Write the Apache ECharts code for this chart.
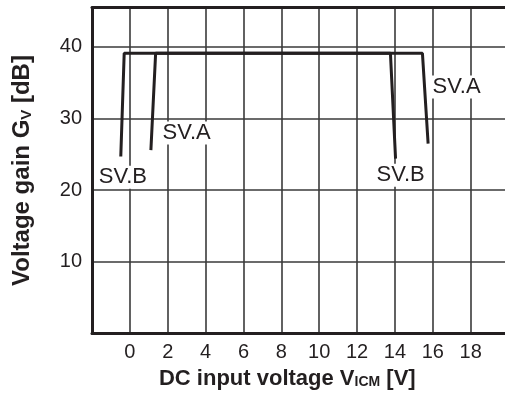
<!DOCTYPE html>
<html>
<head>
<meta charset="utf-8">
<script src="https://cdn.jsdelivr.net/npm/echarts@6/dist/echarts.min.js"></script>
<style>html,body{margin:0;padding:0;background:#fff}#c{width:505px;height:400px}</style>
</head>
<body>
<div id="c"></div>
<script>
var xTicks = [0, 2, 4, 6, 8, 10, 12, 14, 16, 18];
var yTicks = [10, 20, 30, 40];
var svA = [[1.11, 25.6], [1.36, 39.1], [15.45, 39.1], [15.75, 26.5]];
var svB = [[-0.48, 24.7], [-0.3, 39.1], [13.76, 39.1], [14.03, 24.4]];
var labelNames = ['SV.B', 'SV.A', 'SV.A', 'SV.B'];
var labelX = [-0.37, 3.0, 17.25, 14.3];
var labelY = [21.8, 28.0, 34.4, 22.1];

var ink = '#231f20';
var font = '"Liberation Sans", Arial, Helvetica, sans-serif';
var chart = echarts.init(document.getElementById('c'), null, {renderer: 'canvas'});
var labelData = labelNames.map(function (n, i) { return {value: [labelX[i], labelY[i]], name: n}; });

chart.setOption({
  animation: false,
  backgroundColor: '#fff',
  textStyle: {fontFamily: font, color: ink},
  grid: {left: 92, top: 7.5, width: 416.6, height: 326, containLabel: false, outerBoundsMode: 'none'},
  xAxis: [{
    type: 'value', min: -2, max: 20, interval: 2,
    axisLine: {show: true, onZero: false, lineStyle: {color: ink, width: 3}},
    axisTick: {show: false},
    axisLabel: {
      fontSize: 20, color: ink, fontFamily: font, margin: 9,
      formatter: function (v) { return xTicks.indexOf(v) >= 0 ? String(v) : ''; }
    },
    splitLine: {show: true, lineStyle: {color: '#3a3a3a', width: 1.6}},
    name: '{b|DC input voltage V}{s|ICM}{b| [V]}',
    nameLocation: 'middle', nameGap: 34,
    nameTextStyle: {
      padding: [0, 26, 0, 0],
      rich: {
        b: {fontSize: 22, fontWeight: 'bold', color: ink, fontFamily: font},
        s: {fontSize: 14, fontWeight: 'bold', color: ink, fontFamily: font, verticalAlign: 'bottom', padding: [7, 0, 0, 0]}
      }
    }
  }, {
    type: 'value', min: -2, max: 20, position: 'top',
    axisLine: {show: true, onZero: false, lineStyle: {color: ink, width: 3}},
    axisTick: {show: false}, axisLabel: {show: false}, splitLine: {show: false}
  }],
  yAxis: {
    type: 'value', min: 0, max: 45.5, interval: 10,
    axisLine: {show: true, onZero: false, lineStyle: {color: ink, width: 3}},
    axisTick: {show: false},
    axisLabel: {
      fontSize: 20, color: ink, fontFamily: font, margin: 10,
      formatter: function (v) { return yTicks.indexOf(v) >= 0 ? String(v) : ''; }
    },
    splitLine: {show: true, lineStyle: {color: '#3a3a3a', width: 1.6}},
    name: '{b|Voltage gain G}{s|V}{b| [dB]}',
    nameLocation: 'middle', nameGap: 58, nameRotate: 90,
    nameTextStyle: {
      rich: {
        b: {fontSize: 24, fontWeight: 'bold', color: ink, fontFamily: font},
        s: {fontSize: 15, fontWeight: 'bold', color: ink, fontFamily: font, verticalAlign: 'bottom', padding: [7, 0, 0, 0]}
      }
    }
  },
  series: [
    {type: 'line', name: 'SV.A', data: svA, symbol: 'none', lineStyle: {color: ink, width: 3}, z: 3},
    {type: 'line', name: 'SV.B', data: svB, symbol: 'none', lineStyle: {color: ink, width: 3}, z: 3},
    {
      type: 'scatter', data: labelData, symbolSize: 0, z: 5,
      itemStyle: {opacity: 1},
      label: {
        show: true, position: 'inside', formatter: '{b}',
        fontSize: 22, color: ink, fontFamily: font,
        backgroundColor: '#fff', padding: [1, 2, 0, 2]
      }
    }
  ]
});
</script>
</body>
</html>
